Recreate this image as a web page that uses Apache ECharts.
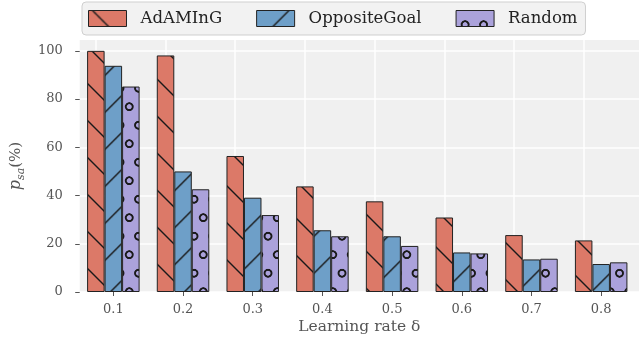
<!DOCTYPE html>
<html>
<head>
<meta charset="utf-8">
<script src="https://cdn.jsdelivr.net/npm/echarts@6/dist/echarts.min.js"></script>
<style>html,body{margin:0;padding:0;background:#fff}#c{width:639px;height:343px}</style>
</head>
<body>
<div id="c"></div>
<script>
const categories = ['0.1', '0.2', '0.3', '0.4', '0.5', '0.6', '0.7', '0.8'];
const adaming = [100, 98.1, 56.4, 43.8, 37.6, 30.9, 23.6, 21.4];
const oppositeGoal = [93.8, 50.0, 39.1, 25.6, 23.1, 16.4, 13.5, 11.6];
const random = [85.2, 42.6, 31.9, 23.1, 19.1, 16.0, 13.8, 12.3];
const yTicks = [0, 20, 40, 60, 80, 100];

const FONT = 'DejaVu Serif';

function hatch(bg, dir) {
  const P = 37;
  const c = document.createElement('canvas');
  c.width = P; c.height = P;
  const g = c.getContext('2d');
  g.fillStyle = bg; g.fillRect(0, 0, P, P);
  g.strokeStyle = '#1a1a1a'; g.lineWidth = 1.4;
  for (let k = -1; k <= 1; k++) {
    g.beginPath();
    if (dir === 'back') { g.moveTo(k * P - 2, -2); g.lineTo(k * P + P + 2, P + 2); }
    else { g.moveTo(k * P - 2, P + 2); g.lineTo(k * P + P + 2, -2); }
    g.stroke();
  }
  return c;
}
function circles(bg) {
  const c = document.createElement('canvas');
  c.width = 37; c.height = 74;
  const g = c.getContext('2d');
  g.fillStyle = bg; g.fillRect(0, 0, 37, 74);
  g.strokeStyle = '#1a1a1a'; g.lineWidth = 3.8;
  [[18.5, 0], [18.5, 74], [0, 37], [37, 37]].forEach(([x, y]) => {
    g.beginPath(); g.arc(x, y, 7.0, 0, Math.PI * 2); g.stroke();
  });
  return c;
}
const redFill = {image: hatch('#dc7968', 'back'), repeat: 'repeat', x: 0, y: -4};
const blueFill = {image: hatch('#6e9fc8', 'fwd'), repeat: 'repeat', x: 0, y: -4.7};
const purpleFill = {image: circles('#aba2db'), repeat: 'repeat', x: 120, y: 106.7, scaleX: 0.5, scaleY: 0.5};

const chart = echarts.init(document.getElementById('c'), null, {renderer: 'canvas'});
const barCommon = {
  type: 'bar', xAxisIndex: 1, yAxisIndex: 1, barWidth: 17.5, barGap: '0%', z: 2,
  animation: false
};
chart.setOption({
  animation: false,
  grid: [
    {left: 70, right: -22, top: 40, bottom: 51, show: true, backgroundColor: '#f0f0f0', borderWidth: 0},
    {left: 78.5, right: 3, top: 40, bottom: 51}
  ],
  legend: {
    left: 82, top: 2,
    padding: [8, 8, 8, 6],
    backgroundColor: '#f2f2f2', borderColor: '#cfcfcf', borderWidth: 1, borderRadius: 4,
    itemWidth: 38, itemHeight: 16, itemGap: 34,
    icon: 'rect',
    itemStyle: {borderColor: '#222', borderWidth: 1},
    textStyle: {fontFamily: FONT, fontSize: 16.5, color: '#222', padding: [0, 0, 0, 9]},
    data: ['AdAMInG', 'OppositeGoal', 'Random']
  },
  xAxis: [
    {gridIndex: 0, type: 'value', min: 0, max: 1,
     axisLine: {show: false}, axisTick: {show: false}, axisLabel: {show: false}, splitLine: {show: false},
     name: 'Learning rate δ', nameLocation: 'middle', nameGap: 27,
     nameTextStyle: {fontFamily: FONT, fontSize: 15.5, color: '#555'}},
    {gridIndex: 1, type: 'category', data: categories,
     axisLine: {show: false},
     axisTick: {show: true, alignWithLabel: true, length: 4, lineStyle: {color: '#555', width: 1}},
     axisLabel: {fontFamily: FONT, fontSize: 13, color: '#555', margin: 11},
     splitLine: {show: false}}
  ],
  yAxis: [
    {gridIndex: 0, type: 'value', min: 0, max: 104.5,
     axisLine: {show: false},
     axisTick: {show: true, length: 4.5, lineStyle: {color: '#555', width: 1}, customValues: yTicks},
     axisLabel: {fontFamily: FONT, fontSize: 13, color: '#555', margin: 17, customValues: yTicks},
     splitLine: {show: true, lineStyle: {color: '#ffffff', width: 1.5}},
     name: '{i|p}{s|sa}{n|(%)}', nameLocation: 'middle', nameRotate: 90, nameGap: 43,
     nameTextStyle: {
       fontFamily: FONT, color: '#555',
       rich: {
         i: {fontFamily: FONT, fontStyle: 'italic', fontSize: 16, color: '#555', lineHeight: 22},
         s: {fontFamily: FONT, fontStyle: 'italic', fontSize: 11, color: '#555', lineHeight: 12, verticalAlign: 'bottom'},
         n: {fontFamily: FONT, fontSize: 15, color: '#555', lineHeight: 22}
       }
     }},
    {gridIndex: 1, type: 'value', min: 0, max: 104.5, show: false}
  ],
  series: [
    Object.assign({}, barCommon, {
      name: 'AdAMInG', data: adaming,
      itemStyle: {color: redFill, borderColor: '#222', borderWidth: 1},
      markLine: {
        silent: true, symbol: ['none', 'none'], z: 1, animation: false,
        label: {show: false},
        lineStyle: {color: '#ffffff', width: 1.5, type: 'solid'},
        emphasis: {disabled: true},
        data: categories.map(c => ({xAxis: c}))
      }
    }),
    Object.assign({}, barCommon, {
      name: 'OppositeGoal', data: oppositeGoal,
      itemStyle: {color: blueFill, borderColor: '#222', borderWidth: 1}
    }),
    Object.assign({}, barCommon, {
      name: 'Random', data: random,
      itemStyle: {color: purpleFill, borderColor: '#222', borderWidth: 1}
    })
  ]
});
</script>
</body>
</html>
